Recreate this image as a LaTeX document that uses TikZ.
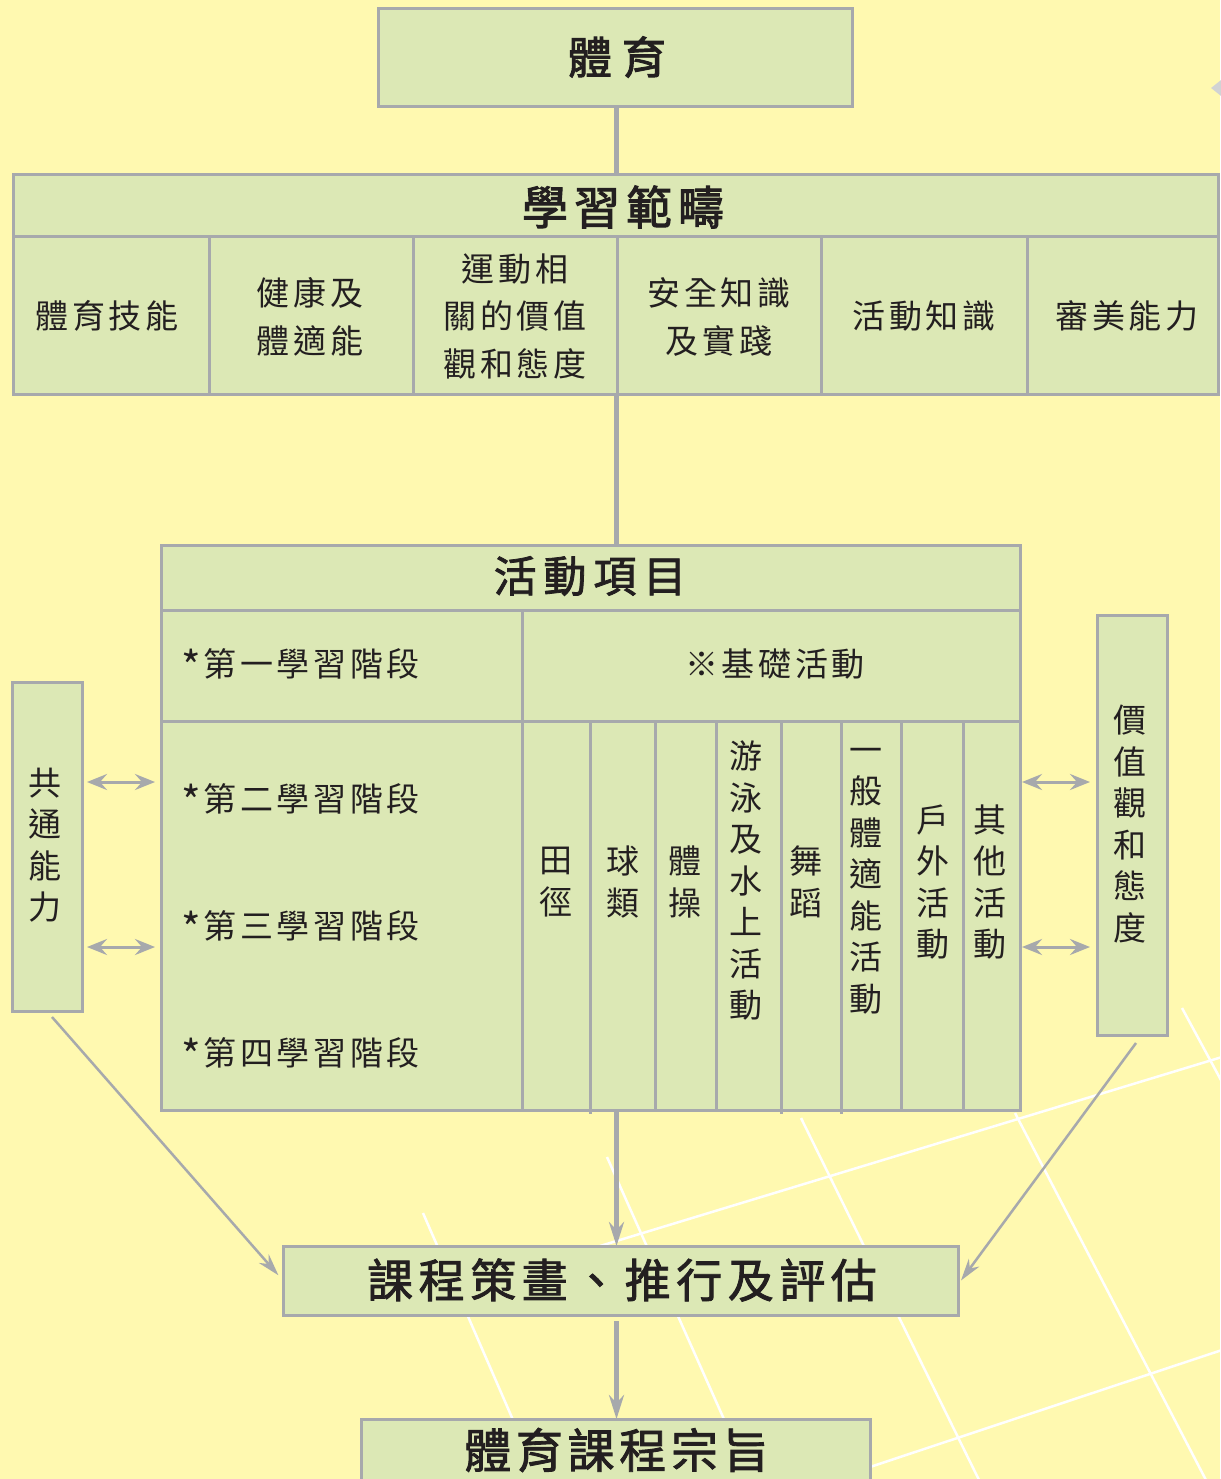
\documentclass[tikz,border=0pt]{standalone}
\usepackage{fontspec}
\usetikzlibrary{arrows.meta,shapes.geometric}
\newfontfamily\cjk{Noto Sans CJK TC}
\definecolor{bgy}{RGB}{255,249,176}
\definecolor{boxg}{RGB}{220,232,181}
\definecolor{bord}{RGB}{167,169,172}
\definecolor{ink}{RGB}{35,31,32}
\definecolor{deco}{RGB}{209,211,212}
\newcommand\bodyfont{\cjk\fontsize{33}{47.5}\selectfont\addfontfeature{LetterSpace=11}}
\newcommand\vertfont{\cjk\fontsize{33}{41.5}\selectfont}
\newcommand\titlefont[3]{\cjk\fontsize{#1}{#1}\selectfont\addfontfeatures{LetterSpace=#2,FakeBold=#3}}
\newcommand\stagemark{\smash{\raisebox{-6pt}{\fontsize{42}{42}\selectfont *}}\kern3pt}
\tikzset{
  box/.style={draw=bord, fill=boxg, line width=3pt, inner sep=0pt, outer sep=0pt},
  lbl/.style={text=ink, inner sep=0pt, outer sep=0pt, align=center, font=\bodyfont},
  vlbl/.style={text=ink, inner sep=0pt, outer sep=0pt, align=center, font=\vertfont},
  ttl/.style={text=ink, inner sep=0pt, outer sep=0pt},
  divider/.style={draw=bord, line width=3pt},
  spineline/.style={draw=bord, line width=4.5pt},
  arrowv/.style={draw=bord, line width=4.5pt, -{Stealth[length=24pt,width=15pt,inset=8pt]}},
  dbl/.style={draw=bord, line width=3pt, {Stealth[length=20pt,width=16pt,inset=7pt]}-{Stealth[length=20pt,width=16pt,inset=7pt]}},
  diag/.style={draw=bord, line width=2.5pt, -{Stealth[length=22pt,width=13pt,inset=7pt]}},
  whiteline/.style={draw=white, line width=2.5pt}
}
\begin{document}
\begin{tikzpicture}[x=1pt,y=-1pt]
\useasboundingbox (0,0) rectangle (1220,1479);
\fill[bgy] (0,0) rectangle (1220,1479);
% decorative white grid lines
\draw[whiteline] (1182,1008) -- (1222,1082);
\draw[whiteline] (600,1246) -- (1222,1057);
\draw[whiteline] (423,1213) -- (540,1482);
\draw[whiteline] (607,1157) -- (752,1482);
\draw[whiteline] (801,1118) -- (980,1482);
\draw[whiteline] (1015,1113) -- (1207,1482);
\draw[whiteline] (870,1467) -- (1222,1350);
% decorative gray diamond at right edge
\node[diamond, fill=deco, minimum width=30pt, minimum height=24pt, inner sep=0pt] (deco) at (1226,88) {};
\coordinate (spine) at (616.5,0);

% top box
\node[box, minimum width=474pt, minimum height=98pt] (pe) at (615,58) {};
\node[ttl, font={\titlefont{44}{23}{2.2}}] (pet) at (617,57) {體育};

% learning strands
\node[box, minimum width=1205pt, minimum height=219pt] (fw) at (615.5,284.5) {};
\draw[divider] (13,237) -- (1218,237);
\foreach \x in {209,413,617,821,1027} \draw[divider] (\x,237) -- (\x,394);
\node[ttl, font={\titlefont{46}{13}{2.2}}] (fwt) at (623,207) {學習範疇};
\node[lbl] (s1) at (107,316) {體育技能};
\node[lbl] (s2) at (310,317) {健康及\\體適能};
\node[lbl] (s3) at (515,316) {運動相\\關的價值\\觀和態度};
\node[lbl] (s4) at (719,317) {安全知識\\及實踐};
\node[lbl] (s5) at (924,316) {活動知識};
\node[lbl] (s6) at (1127,316) {審美能力};

% activities
\node[box, minimum width=859pt, minimum height=565pt] (act) at (590.5,827.5) {};
\draw[divider] (161,610) -- (1020,610);
\draw[divider] (161,721) -- (1020,721);
\draw[divider] (522,610) -- (522,1110);
\foreach \x in {655,716,901,963} \draw[divider] (\x,721) -- (\x,1110);
\foreach \x in {590,781,841} \draw[divider] (\x,721) -- (\x,1114);
\node[ttl, font={\titlefont{43}{16}{1.8}}] (actt) at (590,576) {活動項目};
\node[lbl, anchor=west] (k1) at (181,664) {\stagemark 第一學習階段};
\node[lbl, anchor=west] (k2) at (181,799) {\stagemark 第二學習階段};
\node[lbl, anchor=west] (k3) at (181,926) {\stagemark 第三學習階段};
\node[lbl, anchor=west] (k4) at (181,1053) {\stagemark 第四學習階段};
\node[lbl] (basic) at (775,664) {※基礎活動};
\node[vlbl] (a1) at (556,882) {田\\徑};
\node[vlbl] (a2) at (623,882) {球\\類};
\node[vlbl] (a3) at (685,882) {體\\操};
\node[vlbl] (a4) at (746,881) {游\\泳\\及\\水\\上\\活\\動};
\node[vlbl] (a5) at (806,882) {舞\\蹈};
\node[vlbl] (a6) at (866,881) {一\\般\\體\\適\\能\\活\\動};
\node[vlbl] (a7) at (933,882) {戶\\外\\活\\動};
\node[vlbl] (a8) at (990,882) {其\\他\\活\\動};

% side boxes
\node[box, minimum width=70pt, minimum height=329pt] (gen) at (47,846.5) {};
\node[vlbl] (gent) at (45,845) {共\\通\\能\\力};
\node[box, minimum width=70pt, minimum height=420pt] (val) at (1132,825) {};
\node[vlbl] (valt) at (1130,824) {價\\值\\觀\\和\\態\\度};

% planning
\node[box, minimum width=675pt, minimum height=69pt] (plan) at (620.5,1280.5) {};
\node[ttl, font={\titlefont{46}{12}{1.8}}] (plant) at (622,1280) {課程策畫、推行及評估};

% aims
\node[box, minimum width=509pt, minimum height=90pt] (aim) at (615.5,1464) {};
\node[ttl, font={\titlefont{47}{10}{1.8}}] (aimt) at (617,1450) {體育課程宗旨};

% connectors
\draw[spineline] (spine |- pe.south) -- (spine |- fw.north);
\draw[spineline] (spine |- fw.south) -- (spine |- act.north);
\draw[arrowv] (spine |- act.south) -- (spine |- plan.north);
\draw[arrowv, shorten <=6pt] (spine |- plan.south) -- (spine |- aim.north);

\draw[dbl, shorten <=5pt, shorten >=6pt] (gen.east |- 0,782) -- (act.west |- 0,782);
\draw[dbl, shorten <=5pt, shorten >=6pt] (gen.east |- 0,947) -- (act.west |- 0,947);
\draw[dbl, shorten <=2pt, shorten >=7pt] (act.east |- 0,782) -- (val.west |- 0,782);
\draw[dbl, shorten <=2pt, shorten >=7pt] (act.east |- 0,947) -- (val.west |- 0,947);

\coordinate (genout) at (52,1017);
\coordinate (valout) at (1136,1043);
\draw[diag, shorten >=7pt] (genout) -- (plan.west);
\draw[diag, shorten >=5pt] (valout) -- ([yshift=-4pt]plan.east);
\end{tikzpicture}
\end{document}
